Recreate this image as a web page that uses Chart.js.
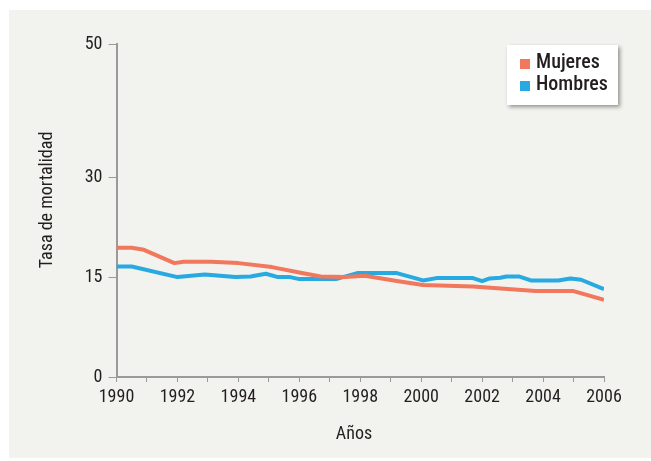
<!DOCTYPE html>
<html lang="es">
<head>
<meta charset="utf-8">
<script src="https://cdn.jsdelivr.net/npm/chart.js@4"></script>
<style>
  html, body { margin: 0; padding: 0; background: #ffffff; }
  #wrap { width: 651px; height: 461px; position: relative; }
</style>
</head>
<body>
<div id="wrap"><canvas id="grafico" width="651" height="461"></canvas></div>
<script>
// Tasa de mortalidad 1990-2006
const anosMujeres = [1990, 1990.5, 1990.9, 1991.9, 1992.2, 1993.1, 1994.0, 1995.1, 1996.0, 1996.7, 1997.5, 1998.15, 1999.2, 2000.06, 2001.7, 2003.75, 2005.0, 2006];
const tasaMujeres = [19.4, 19.4, 19.1, 17.1, 17.3, 17.3, 17.1, 16.5, 15.7, 15.1, 15.0, 15.2, 14.4, 13.8, 13.6, 12.9, 12.9, 11.6];

const anosHombres = [1990, 1990.5, 1992.0, 1992.9, 1993.9, 1994.4, 1994.9, 1995.3, 1995.7, 1996.0, 1997.2, 1997.9, 1999.2, 2000.06, 2000.5, 2001.7, 2002.0, 2002.25, 2002.6, 2002.8, 2003.2, 2003.6, 2004.5, 2004.9, 2005.25, 2006];
const tasaHombres = [16.6, 16.6, 15.0, 15.4, 15.0, 15.1, 15.5, 15.0, 15.0, 14.7, 14.7, 15.6, 15.6, 14.5, 14.85, 14.85, 14.4, 14.8, 14.9, 15.1, 15.1, 14.5, 14.5, 14.8, 14.6, 13.2];

const ticksY = [0, 15, 30, 50];
const series = ['Mujeres', 'Hombres'];
const colores = ['#f1785c', '#27a9e1'];
const tituloX = 'Años';
const tituloY = 'Tasa de mortalidad';

const fuente = "'Roboto Condensed', 'DejaVu Sans Condensed', sans-serif";
const tinta = '#231f20';
const gris = '#9a9a9a';

const puntos = (xs, ys) => xs.map((x, i) => ({ x: x, y: ys[i] }));

// panel de fondo gris claro
const fondo = {
  id: 'fondo',
  beforeDraw(chart) {
    const c = chart.ctx;
    c.save();
    c.fillStyle = '#f2f2ee';
    c.fillRect(9, 10, chart.width - 9, 448);
    c.restore();
  }
};

// titulos de los ejes
const titulos = {
  id: 'titulos',
  afterDraw(chart) {
    const c = chart.ctx;
    c.save();
    c.fillStyle = tinta;
    c.font = "18px " + fuente;
    c.textAlign = 'center';
    c.textBaseline = 'middle';
    c.fillText(tituloX, 354, 434);
    c.translate(47, 200);
    c.rotate(-Math.PI / 2);
    c.fillText(tituloY, 0, 0);
    c.restore();
  }
};

// leyenda en recuadro blanco arriba a la derecha
const leyenda = {
  id: 'leyenda',
  afterDraw(chart) {
    const c = chart.ctx;
    const x = 507, y = 45, w = 111, h = 60;
    c.save();
    c.shadowColor = 'rgba(0,0,0,0.4)';
    c.shadowBlur = 4;
    c.shadowOffsetX = 2;
    c.shadowOffsetY = 2;
    c.fillStyle = '#ffffff';
    c.fillRect(x, y, w, h);
    c.shadowColor = 'transparent';
    c.font = "500 20px " + fuente;
    c.textBaseline = 'middle';
    chart.data.datasets.forEach((ds, i) => {
      const cy = y + 18 + i * 22;
      c.fillStyle = ds.borderColor;
      c.fillRect(x + 13, cy - 4, 10, 10);
      c.fillStyle = tinta;
      c.fillText(ds.label, x + 29, cy);
    });
    c.restore();
  }
};

new Chart(document.getElementById('grafico'), {
  type: 'line',
  data: {
    datasets: [
      { label: series[0], data: puntos(anosMujeres, tasaMujeres), borderColor: colores[0], backgroundColor: colores[0] },
      { label: series[1], data: puntos(anosHombres, tasaHombres), borderColor: colores[1], backgroundColor: colores[1] }
    ]
  },
  options: {
    responsive: false,
    animation: false,
    layout: { padding: { left: 0, top: 44, right: 47, bottom: 0 } },
    elements: {
      line: { borderWidth: 4, tension: 0, borderJoinStyle: 'round' },
      point: { radius: 0 }
    },
    plugins: { legend: { display: false }, tooltip: { enabled: false } },
    scales: {
      x: {
        type: 'linear',
        min: 1990,
        max: 2006,
        afterFit: (s) => { s.height = 84; },
        afterBuildTicks: (s) => {
          const t = [];
          for (let a = 1990; a <= 2006; a++) t.push({ value: a });
          s.ticks = t;
        },
        ticks: {
          autoSkip: false,
          maxRotation: 0,
          padding: 5,
          color: tinta,
          font: { family: fuente, size: 18 },
          callback: (v) => (v % 2 === 0 ? String(v) : '')
        },
        grid: { drawOnChartArea: false, drawTicks: true, tickLength: 5, color: gris, lineWidth: 1 },
        border: { color: gris, width: 2 }
      },
      y: {
        min: 0,
        max: 50,
        afterFit: (s) => { s.width = 116.5; },
        afterBuildTicks: (s) => { s.ticks = ticksY.map((v) => ({ value: v })); },
        ticks: {
          padding: 6,
          color: tinta,
          font: { family: fuente, size: 18 }
        },
        grid: { drawOnChartArea: false, drawTicks: true, tickLength: 8, color: gris, lineWidth: 1 },
        border: { color: gris, width: 2 }
      }
    }
  },
  plugins: [fondo, titulos, leyenda]
});
</script>
</body>
</html>
